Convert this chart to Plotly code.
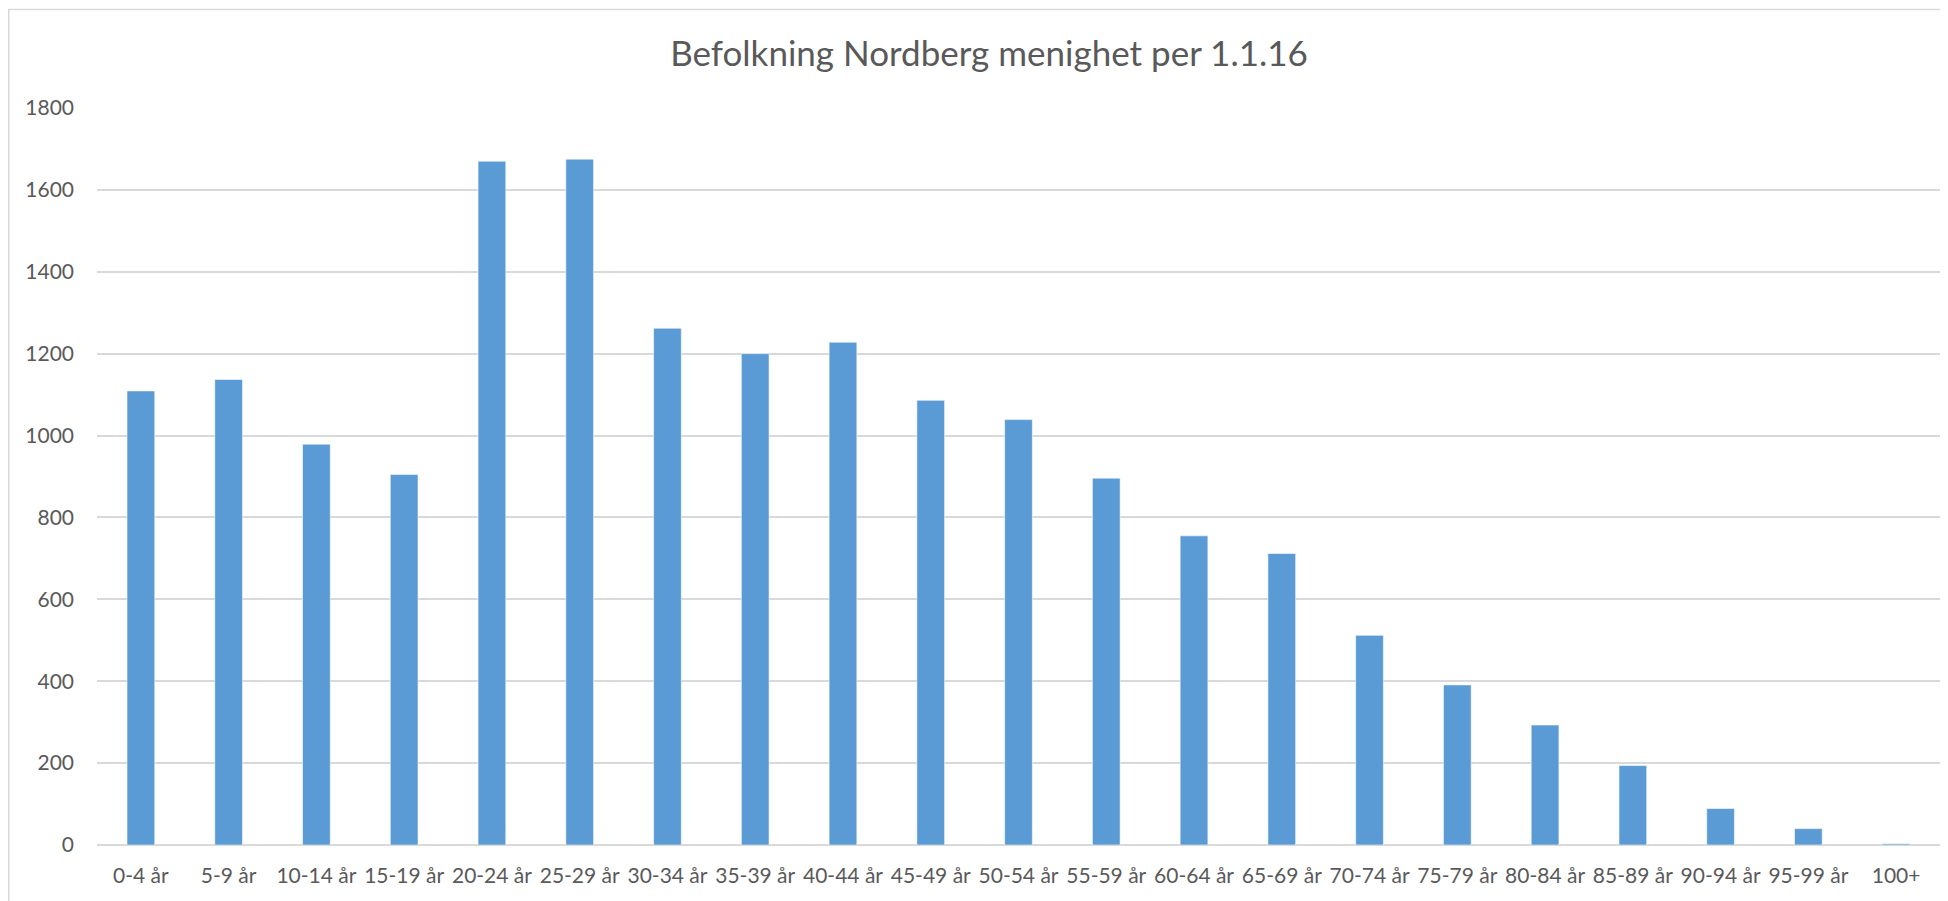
import plotly.graph_objects as go

categories = ["0-4 år", "5-9 år", "10-14 år", "15-19 år", "20-24 år", "25-29 år",
              "30-34 år", "35-39 år", "40-44 år", "45-49 år", "50-54 år", "55-59 år",
              "60-64 år", "65-69 år", "70-74 år", "75-79 år", "80-84 år", "85-89 år",
              "90-94 år", "95-99 år", "100+"]
population = [1109, 1137, 979, 905, 1670, 1675, 1262, 1200, 1228, 1086, 1039, 896,
              755, 712, 512, 391, 293, 194, 89, 40, 3]
y_ticks = [0, 200, 400, 600, 800, 1000, 1200, 1400, 1600, 1800]
title_text = "Befolkning Nordberg menighet per 1.1.16"

# page has an 8px body margin; figure is sized to fill the rest of the window
W, H = 1940, 893
ML, MR, MT, MB = 89, 8, 100, 56
FONT = "Lato, 'Open Sans', sans-serif"
TXT = "#595959"

fig = go.Figure()
fig.add_trace(go.Bar(
    x=categories, y=population,
    marker=dict(color="#5B9BD5", line=dict(color="rgba(255,255,255,0.55)", width=1)),
    hoverinfo="x+y",
))

pw = W - ML - MR
ph = H - MT - MB
def px2x(px):
    return (px - ML) / pw
def py2y(py):
    return (H - MB - py) / ph

fig.add_shape(type="rect", xref="paper", yref="paper",
              x0=px2x(0.75), x1=px2x(1938.5), y0=py2y(960), y1=py2y(1.5),
              line=dict(color="#D9D9D9", width=1.5), fillcolor="rgba(0,0,0,0)", layer="below")

fig.update_layout(
    width=W, height=H,
    margin=dict(l=ML, r=MR, t=MT, b=MB, pad=0),
    paper_bgcolor="white", plot_bgcolor="white",
    bargap=0.684,
    showlegend=False,
    font=dict(family=FONT, color=TXT, size=21),
    title=dict(text=title_text, xref="container", yref="container",
               x=981 / W, y=1 - 46 / H, xanchor="center", yanchor="middle",
               font=dict(family=FONT, size=35, color=TXT)),
    xaxis=dict(
        type="category", showgrid=False, showline=False, zeroline=False,
        tickangle=0, ticks="", ticklabelstandoff=16,
        tickfont=dict(family=FONT, size=21, color=TXT),
    ),
    yaxis=dict(
        range=[0, 1800], tickvals=y_ticks, ticktext=[str(v) for v in y_ticks],
        showgrid=True, gridcolor="#D9D9D9", gridwidth=1.5,
        zeroline=True, zerolinecolor="#D9D9D9", zerolinewidth=2,
        showline=False, ticks="", ticklabelstandoff=22,
        tickfont=dict(family=FONT, size=21, color=TXT),
    ),
)

fig.write_html("out.html")
